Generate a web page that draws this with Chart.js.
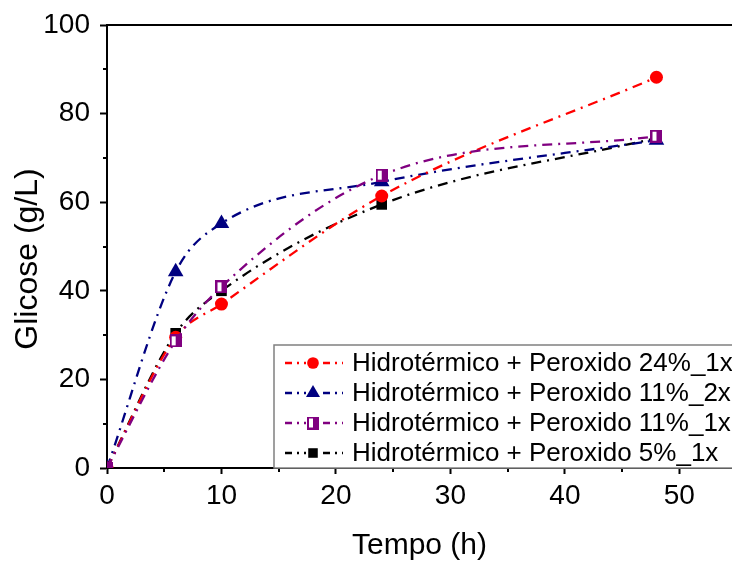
<!DOCTYPE html>
<html>
<head>
<meta charset="utf-8">
<script src="https://cdn.jsdelivr.net/npm/chart.js@4/dist/chart.umd.min.js"></script>
<style>
  html, body { margin: 0; padding: 0; background: #fff; }
  #wrap { width: 732px; height: 561px; }
</style>
</head>
<body>
<div id="wrap"><canvas id="ch_glicose" width="732" height="561"></canvas></div>
<script>
/* Glicose vs Tempo — four pretreatment conditions */

const tempo = [0, 6, 10, 24, 48];

const seriesLabels = [
  'Hidrotérmico + Peroxido 24%_1x',
  'Hidrotérmico + Peroxido 11%_2x',
  'Hidrotérmico + Peroxido 11%_1x',
  'Hidrotérmico + Peroxido 5%_1x'
];

const perox24_1x = [0, 29.5, 37.0, 61.4, 88.2];
const perox11_2x = [0, 44.3, 55.2, 64.6, 74.0];
const perox11_1x = [0, 28.7, 40.9, 66.1, 74.9];
const perox5_1x  = [0, 30.4, 40.0, 59.5, 74.5];

const xTicksMajor = [0, 10, 20, 30, 40, 50];
const yTicksMajor = [0, 20, 40, 60, 80, 100];

const FONT = "'Liberation Sans', Arial, sans-serif";
const DASH = [10, 6, 2, 6];

// half-open square marker (left part white)
function halfSquare(color) {
  const c = document.createElement('canvas');
  c.width = 12; c.height = 13;
  const g = c.getContext('2d');
  g.fillStyle = color; g.fillRect(0, 0, 12, 13);
  g.fillStyle = '#fff'; g.fillRect(2, 2, 4, 9);
  return c;
}

function pts(ys) { return tempo.map((t, i) => ({ x: t, y: ys[i] })); }

const datasets = [
  { label: seriesLabels[0], data: pts(perox24_1x), borderColor: '#ff0000', backgroundColor: '#ff0000',
    pointStyle: 'circle', pointRadius: 6.5, order: 2 },
  { label: seriesLabels[1], data: pts(perox11_2x), borderColor: '#000080', backgroundColor: '#000080',
    pointStyle: 'triangle', pointRadius: 9, order: 3 },
  { label: seriesLabels[2], data: pts(perox11_1x), borderColor: '#800080', backgroundColor: '#800080',
    pointStyle: halfSquare('#800080'), pointRadius: 6, order: 1 },
  { label: seriesLabels[3], data: pts(perox5_1x), borderColor: '#000000', backgroundColor: '#000000',
    pointStyle: 'rect', pointRadius: 7.5, order: 4 }
].map(d => Object.assign(d, {
  borderWidth: 2.3,
  borderDash: DASH,
  cubicInterpolationMode: 'monotone',
  pointBorderWidth: 0,
  pointHoverRadius: d.pointRadius
}));

// minor ticks, top frame line, y title and boxed legend
const framePlugin = {
  id: 'frame',
  afterDraw(chart) {
    const { ctx, chartArea: a, scales: { x, y } } = chart;
    ctx.save();
    ctx.strokeStyle = '#000';
    ctx.lineWidth = 2;
    ctx.beginPath();
    ctx.moveTo(a.left - 1, a.top); ctx.lineTo(chart.width, a.top);
    // minor ticks
    for (let v = 5; v < x.max; v += 10) {
      const px = Math.round(x.getPixelForValue(v));
      ctx.moveTo(px, a.bottom); ctx.lineTo(px, a.bottom + 4);
    }
    for (let v = 10; v < 100; v += 20) {
      const py = Math.round(y.getPixelForValue(v));
      ctx.moveTo(a.left, py); ctx.lineTo(a.left - 4, py);
    }
    ctx.stroke();

    // y axis title
    ctx.save();
    ctx.translate(28, 259);
    ctx.rotate(-Math.PI / 2);
    ctx.font = '32px ' + FONT;
    ctx.fillStyle = '#000';
    ctx.textAlign = 'center';
    ctx.textBaseline = 'middle';
    ctx.fillText('Glicose (g/L)', 0, 0);
    ctx.restore();

    // legend box
    const bx = 274, by = 345, bw = 470, bh = a.bottom - 345;
    ctx.fillStyle = '#fff';
    ctx.fillRect(bx, by, bw, bh);
    ctx.strokeStyle = '#808080';
    ctx.lineWidth = 1.5;
    ctx.strokeRect(bx, by, bw, bh);

    ctx.font = '26px ' + FONT;
    ctx.textBaseline = 'middle';
    chart.data.datasets.forEach((ds, i) => {
      const ry = 363 + i * 30;
      ctx.strokeStyle = ds.borderColor;
      ctx.lineWidth = 2.3;
      ctx.setLineDash([7, 5, 2, 5]);
      ctx.beginPath();
      ctx.moveTo(285, ry); ctx.lineTo(343, ry);
      ctx.stroke();
      ctx.setLineDash([]);
      ctx.fillStyle = '#fff';
      ctx.fillRect(306, ry - 7, 14, 14);
      ctx.fillStyle = ds.backgroundColor;
      Chart.helpers.drawPoint(ctx, {
        pointStyle: ds.pointStyle, radius: ds.pointRadius * 0.9, rotation: 0, borderWidth: 0
      }, 313, ry);
      ctx.fillStyle = '#000';
      ctx.fillText(ds.label, 352, ry + 1);
    });
    ctx.restore();
  }
};

const tickColor = major => ctx => (ctx.tick && major.includes(ctx.tick.value)) ? '#000' : 'rgba(0,0,0,0)';

new Chart(document.getElementById('ch_glicose').getContext('2d'), {
  type: 'line',
  data: { datasets },
  plugins: [framePlugin],
  options: {
    responsive: false,
    animation: false,
    layout: { autoPadding: false, padding: { top: 25, left: 0, right: 0, bottom: 0 } },
    plugins: { legend: { display: false }, tooltip: { enabled: false } },
    scales: {
      x: {
        type: 'linear',
        min: 0, max: 54.6,
        afterBuildTicks: s => { s.ticks = [0, 5, 10, 15, 20, 25, 30, 35, 40, 45, 50].map(v => ({ value: v })); },
        afterFit: s => { s.height = 93; s.paddingLeft = 0; s.paddingRight = 0; },
        border: { display: true, color: '#000', width: 2 },
        grid: { drawOnChartArea: false, drawTicks: true, tickLength: 6, tickWidth: 2, tickColor: tickColor(xTicksMajor) },
        ticks: {
          color: '#000', padding: 5, maxRotation: 0, autoSkip: false,
          font: { family: FONT, size: 28 },
          callback: v => xTicksMajor.includes(v) ? String(v) : ''
        },
        title: { display: true, text: 'Tempo (h)', color: '#000', font: { family: FONT, size: 30, lineHeight: 1.0 }, padding: { top: 0, bottom: 0 } }
      },
      y: {
        min: 0, max: 100,
        afterBuildTicks: s => { s.ticks = [0, 10, 20, 30, 40, 50, 60, 70, 80, 90, 100].map(v => ({ value: v })); },
        afterFit: s => { s.width = 107; s.paddingTop = 0; s.paddingBottom = 0; },
        border: { display: true, color: '#000', width: 2 },
        grid: { drawOnChartArea: false, drawTicks: true, tickLength: 7, tickWidth: 2, tickColor: tickColor(yTicksMajor) },
        ticks: {
          color: '#000', padding: 10, autoSkip: false,
          font: { family: FONT, size: 28 },
          callback: v => yTicksMajor.includes(v) ? String(v) : ''
        },
        title: { display: false }
      }
    }
  }
});
</script>
</body>
</html>
